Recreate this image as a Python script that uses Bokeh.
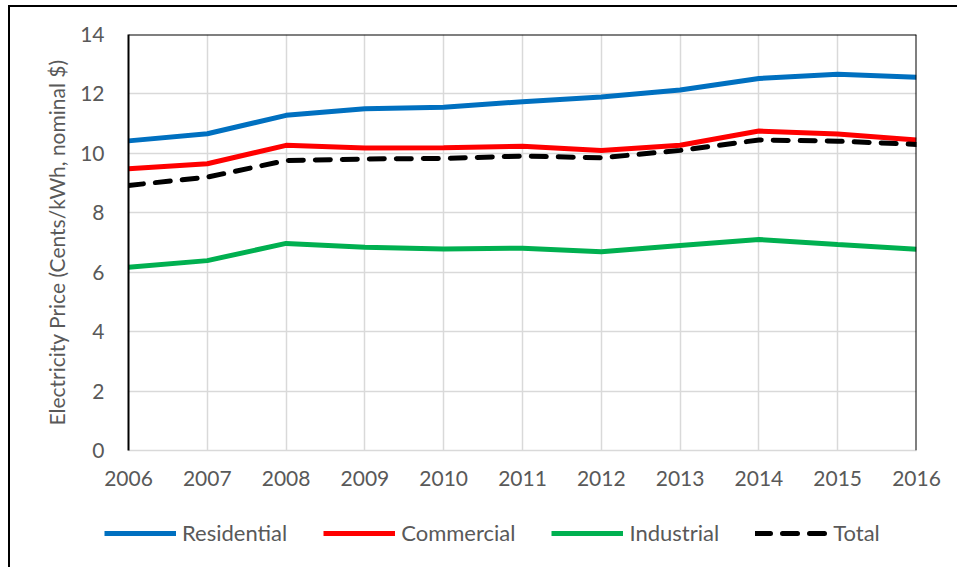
from bokeh.plotting import figure
from bokeh.models import FixedTicker, Span, Legend, LegendItem, Range1d
from bokeh.layouts import column
from bokeh.embed import file_html
from bokeh.resources import INLINE

years = [2006, 2007, 2008, 2009, 2010, 2011, 2012, 2013, 2014, 2015, 2016]
residential = [10.42, 10.66, 11.28, 11.50, 11.55, 11.74, 11.90, 12.13, 12.52, 12.66, 12.56]
commercial = [9.48, 9.65, 10.27, 10.18, 10.19, 10.24, 10.10, 10.27, 10.75, 10.65, 10.45]
industrial = [6.17, 6.39, 6.97, 6.84, 6.78, 6.81, 6.69, 6.90, 7.10, 6.93, 6.77]
total = [8.92, 9.20, 9.76, 9.81, 9.83, 9.91, 9.85, 10.10, 10.45, 10.41, 10.30]
y_ticks = [0, 2, 4, 6, 8, 10, 12, 14]
series_names = ["Residential", "Commercial", "Industrial", "Total"]
series_colors = ["#0070C0", "#FF0000", "#00B050", "black"]

FONT = "Lato"
GRAY = "#595959"
GRID = "#d9d9d9"

p = figure(width=949, height=493, output_backend="svg", toolbar_location=None,
           x_range=Range1d(2006, 2016), y_range=Range1d(0, 14),
           min_border_left=118, min_border_right=43, min_border_top=27, min_border_bottom=50)
p.frame_align = False
p.outline_line_color = None
p.styles = {"margin-left": "8px", "margin-top": "5px",
            "border-left": "2px solid #000000", "border-top": "2px solid #000000"}

p.xaxis.ticker = FixedTicker(ticks=years)
p.yaxis.ticker = FixedTicker(ticks=y_ticks)
for ax in (p.xaxis, p.yaxis):
    ax.major_tick_line_color = None
    ax.minor_tick_line_color = None
    ax.major_label_text_font = FONT
    ax.major_label_text_font_size = "21px"
    ax.major_label_text_color = GRAY
p.xaxis.axis_line_color = GRID
p.xaxis.axis_line_width = 1.5
p.yaxis.axis_line_color = "black"
p.yaxis.axis_line_width = 2
p.xaxis.major_label_standoff = 14
p.yaxis.major_label_standoff = 18
p.yaxis.axis_label = "Electricity Price (Cents/kWh, nominal $)"
p.yaxis.axis_label_text_font = FONT
p.yaxis.axis_label_text_font_size = "21px"
p.yaxis.axis_label_text_font_style = "normal"
p.yaxis.axis_label_text_color = GRAY
p.yaxis.axis_label_standoff = 8

p.xgrid.grid_line_color = GRID
p.ygrid.grid_line_color = GRID
p.xgrid.grid_line_width = 1.5
p.ygrid.grid_line_width = 1.5

p.add_layout(Span(location=14, dimension="width", line_color="black", line_width=2))
p.add_layout(Span(location=2016, dimension="height", line_color="black", line_width=2))

series = [residential, commercial, industrial, total]
for vals, col, name in zip(series, series_colors, series_names):
    if name == "Total":
        p.line(years, vals, line_color=col, line_width=5, line_dash="15 12", line_cap="round")
    else:
        p.line(years, vals, line_color=col, line_width=5)

# legend strip below the chart (its data lie outside its ranges; only the legend shows)
p2 = figure(width=949, height=69, output_backend="svg", toolbar_location=None,
            x_axis_type=None, y_axis_type=None, x_range=Range1d(0, 1), y_range=Range1d(0, 1),
            min_border=0, min_border_left=0, min_border_right=0, min_border_top=0, min_border_bottom=0)
p2.frame_align = False
p2.outline_line_color = None
p2.styles = {"margin-left": "8px", "border-left": "2px solid #000000"}
items = []
for vals, col, name in zip(series, series_colors, series_names):
    if name == "Total":
        r = p2.line(years, vals, line_color=col, line_width=5, line_dash="15 12", line_cap="round")
    else:
        r = p2.line(years, vals, line_color=col, line_width=5)
    items.append(LegendItem(label=name, renderers=[r]))

legend = Legend(items=items, orientation="horizontal", location=(94, 21),
                glyph_width=72, glyph_height=24, label_standoff=6, spacing=36,
                padding=0, margin=0, border_line_color=None, background_fill_alpha=0,
                label_text_font=FONT, label_text_font_size="22px", label_text_color=GRAY,
                label_height=24)
p2.add_layout(legend, "center")

layout = column(p, p2, spacing=0)
open("out.html", "w").write(file_html(layout, INLINE))
